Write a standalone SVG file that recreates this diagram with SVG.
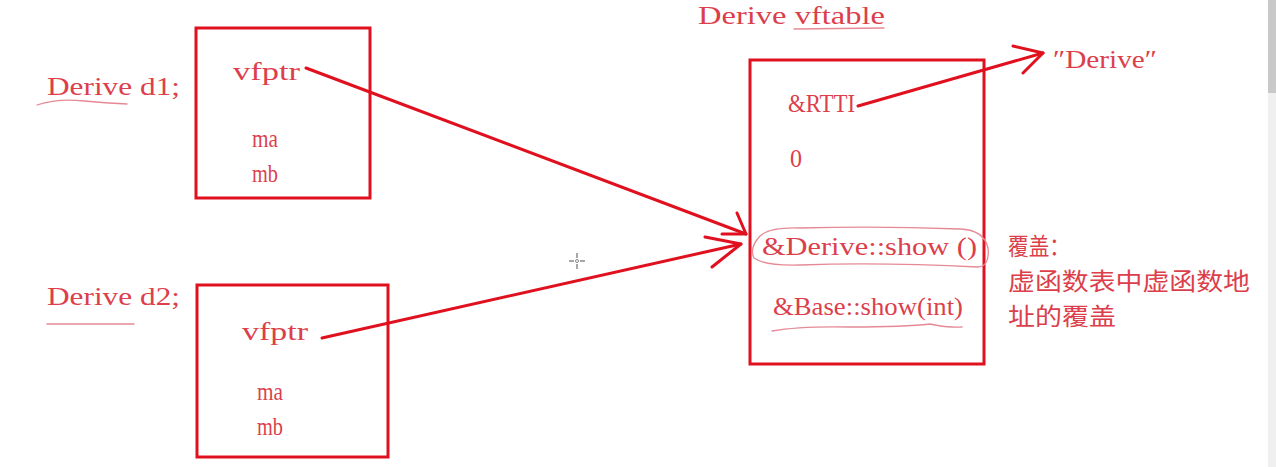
<svg xmlns="http://www.w3.org/2000/svg" width="1276" height="467" viewBox="0 0 1276 467">
  <defs>
    <style>
      .t { font-family: "Liberation Serif", "DejaVu Serif", serif; font-size: 26px; fill: #dc3f4b; }
      .cjk { font-family: "Noto Sans CJK SC", "Noto Sans CJK TC", sans-serif; font-size: 24px; fill: #dc3f4b; }
      .box { fill: none; stroke: #e0101e; stroke-width: 3; }
      .wire { fill: none; stroke: #e0101e; stroke-width: 3; stroke-linecap: round; stroke-linejoin: round; }
      .ink { fill: none; stroke: #e58a95; stroke-width: 1.3; stroke-linecap: round; }
    </style>
  </defs>
  <rect width="1276" height="467" fill="#ffffff"/>

  <!-- object d1 -->
  <g id="d1">
    <text class="t" x="47" y="95" textLength="133" lengthAdjust="spacingAndGlyphs">Derive d1;</text>
    <path class="ink" d="M37,105 Q58,98 84,101 Q105,103 127,104"/>
    <rect class="box" x="196" y="28" width="174" height="170"/>
    <text class="t" x="233" y="80" textLength="67" lengthAdjust="spacingAndGlyphs">vfptr</text>
    <text class="t" x="252" y="147" textLength="26" lengthAdjust="spacingAndGlyphs">ma</text>
    <text class="t" x="252" y="182" textLength="26" lengthAdjust="spacingAndGlyphs">mb</text>
  </g>

  <!-- object d2 -->
  <g id="d2">
    <text class="t" x="47" y="305" textLength="133" lengthAdjust="spacingAndGlyphs">Derive d2;</text>
    <path class="ink" d="M47,324 L134,324"/>
    <rect class="box" x="197" y="285" width="191" height="172"/>
    <text class="t" x="242" y="340" textLength="66" lengthAdjust="spacingAndGlyphs">vfptr</text>
    <text class="t" x="257" y="400" textLength="26" lengthAdjust="spacingAndGlyphs">ma</text>
    <text class="t" x="257" y="435" textLength="26" lengthAdjust="spacingAndGlyphs">mb</text>
  </g>

  <!-- virtual function table -->
  <g id="vftable">
    <text class="t" x="698" y="24" textLength="187" lengthAdjust="spacingAndGlyphs">Derive vftable</text>
    <path class="ink" d="M794,29 L884,28"/>
    <rect class="box" x="750" y="60" width="234" height="304"/>
    <text class="t" x="788" y="112" textLength="67" lengthAdjust="spacingAndGlyphs">&amp;RTTI</text>
    <text class="t" x="790" y="167" textLength="12" lengthAdjust="spacingAndGlyphs">0</text>
    <text class="t" x="762" y="255" textLength="215" lengthAdjust="spacingAndGlyphs">&amp;Derive::show ()</text>
    <path class="ink" d="M760,236 Q770,227 800,228 Q880,226 960,229 Q984,230 988,248 Q990,266 978,267 Q880,262 800,265 Q765,266 754,258 Q749,248 760,236"/>
    <text class="t" x="773" y="315" textLength="190" lengthAdjust="spacingAndGlyphs">&amp;Base::show(int)</text>
    <path class="ink" d="M772,331 Q800,326 850,327 Q905,327 930,324 Q950,328 962,327"/>
  </g>

  <!-- type name string -->
  <g id="rtti-name">
    <text class="t" x="1053" y="68" textLength="104" lengthAdjust="spacingAndGlyphs">″Derive″</text>
  </g>

  <!-- note -->
  <g id="note">
    <text class="cjk" x="1008" y="255" textLength="62" lengthAdjust="spacingAndGlyphs">覆盖：</text>
    <text class="cjk" x="1008" y="290" textLength="242" lengthAdjust="spacingAndGlyphs">虚函数表中虚函数地</text>
    <text class="cjk" x="1008" y="325" textLength="108" lengthAdjust="spacingAndGlyphs">址的覆盖</text>
  </g>

  <!-- connectors -->
  <g id="connectors">
    <path class="wire" d="M306,68 L746,234"/>
    <path class="wire" d="M737,213 L746,234 L722,234"/>
    <path class="wire" d="M322,338 L741,244"/>
    <path class="wire" d="M705,237 L741,244 L712,267"/>
    <path class="wire" d="M858,106 L1043,53"/>
    <path class="wire" d="M1013,46 L1043,53 L1023,73"/>
  </g>

  <!-- pointer crosshair -->
  <g id="cursor" stroke="#8a8a8a" stroke-width="1.5" fill="none">
    <path d="M577,253 L577,258 M577,264 L577,269 M569,261 L574,261 M580,261 L585,261"/>
    <circle cx="577" cy="261" r="1.5" stroke-width="1"/>
  </g>

  <!-- scrollbar -->
  <rect x="1268" y="0" width="8" height="467" fill="#f0f0f0"/>
  <rect x="1268" y="0" width="8" height="93" fill="#c9c9c9"/>
</svg>
